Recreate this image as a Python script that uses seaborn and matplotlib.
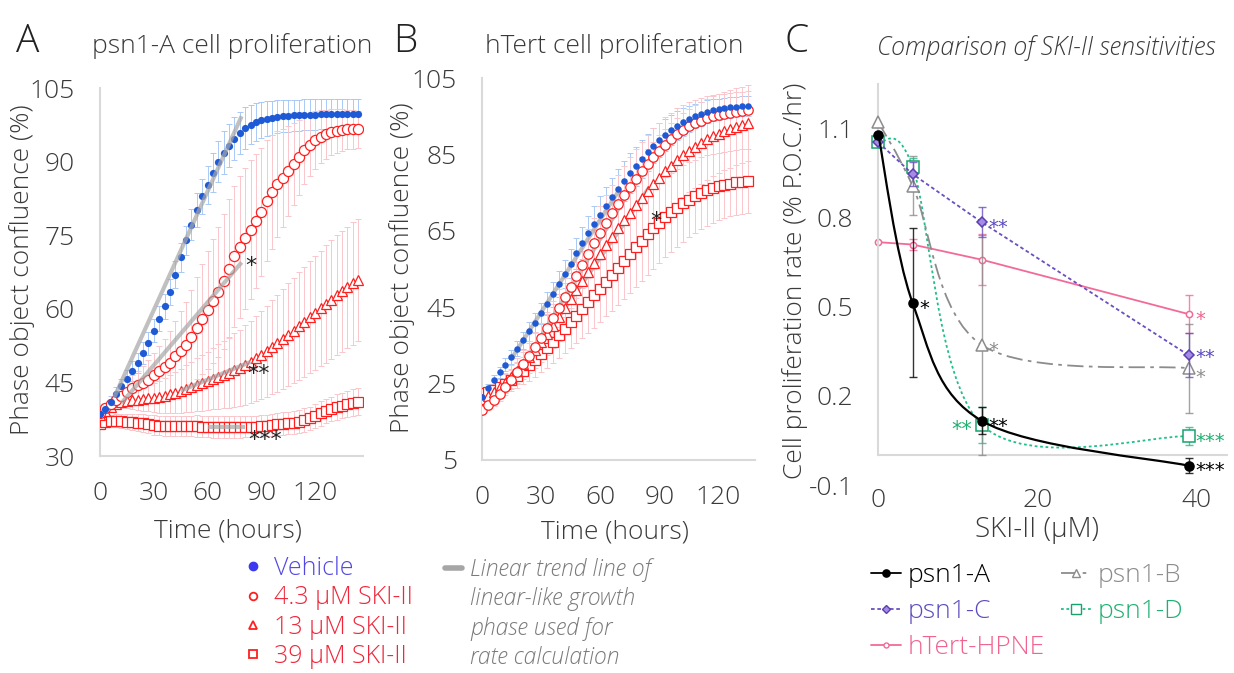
import numpy as np
import pandas as pd
import seaborn as sns
import matplotlib.pyplot as plt
from matplotlib.lines import Line2D
from matplotlib.path import Path
from matplotlib.patches import PathPatch

# ---- panel A: psn1-A confluence (%), every 3 h ----
hours_a = np.arange(0, 145, 3)
veh_a = [38.5, 39.6, 41.0, 42.6, 44.2, 45.7, 47.3, 49.0, 51.0, 53.0,
         55.6, 58.0, 60.5, 63.5, 67.0, 70.5, 74.0, 77.2, 80.2, 83.0,
         85.3, 87.8, 90.0, 91.9, 93.3, 94.7, 95.9, 96.9, 97.6, 98.1,
         98.5, 98.8, 99.0, 99.2, 99.3, 99.4, 99.5, 99.5, 99.6, 99.6,
         99.6, 99.7, 99.7, 99.7, 99.7, 99.7, 99.7, 99.7, 99.7]
c43_a = [38.7, 39.7, 40.6, 41.4, 42.2, 43.1, 43.9, 44.4, 44.9, 45.6,
         46.5, 47.3, 48.1, 49.0, 50.3, 51.5, 52.6, 54.2, 56.1, 58.0,
         59.8, 61.6, 63.4, 65.6, 68.2, 70.7, 72.6, 74.4, 76.2, 77.9,
         79.8, 82.1, 83.8, 85.4, 86.8, 88.1, 89.5, 90.9, 92.4, 93.5,
         94.4, 95.1, 95.6, 96.0, 96.3, 96.5, 96.6, 96.6, 96.6]
c13_a = [38.3, 39.2, 40.0, 40.6, 41.0, 41.2, 41.4, 41.5, 41.6, 41.8,
         41.9, 42.1, 42.3, 42.6, 42.9, 43.3, 43.7, 44.1, 44.5, 44.9,
         45.3, 45.8, 46.2, 46.6, 47.0, 47.5, 48.0, 48.6, 49.2, 49.9,
         50.6, 51.4, 52.2, 53.0, 53.8, 54.7, 55.6, 56.5, 57.4, 58.3,
         59.2, 60.1, 61.0, 61.9, 62.8, 63.6, 64.4, 65.2, 65.9]
c39_a = [36.6, 37.0, 37.2, 37.2, 37.1, 37.0, 36.9, 36.8, 36.7, 36.5,
         36.3, 36.2, 36.1, 36.1, 36.1, 36.1, 36.1, 36.1, 36.1, 36.0,
         36.0, 35.9, 35.9, 35.9, 35.9, 35.9, 35.9, 36.0, 36.0, 36.0,
         36.1, 36.2, 36.3, 36.5, 36.6, 36.7, 36.8, 37.0, 37.3, 37.7,
         38.2, 38.7, 39.2, 39.6, 40.0, 40.3, 40.6, 40.9, 41.1]
veh_err_a = [0.8, 1.0, 1.2, 1.4, 1.6, 1.8, 2.0, 2.1, 2.2, 2.3,
             2.4, 2.5, 2.6, 2.7, 2.8, 2.9, 3.0, 3.2, 3.4, 3.6,
             3.8, 4.0, 4.2, 4.3, 4.4, 4.4, 4.3, 4.2, 4.0, 3.8,
             3.7, 3.6, 3.5, 3.4, 3.3, 3.3, 3.2, 3.2, 3.2, 3.2,
             3.2, 3.1, 3.1, 3.1, 3.1, 3.1, 3.1, 3.1, 3.1]
c43_err_a = [0.5, 0.8, 1.1, 1.4, 1.8, 2.2, 2.6, 3.0, 3.5, 4.0,
             4.6, 5.2, 5.8, 6.5, 7.2, 8.0, 8.8, 9.6, 10.4, 11.2,
             12.0, 12.7, 13.3, 13.8, 14.2, 14.4, 14.5, 14.4, 14.1, 13.7,
             13.1, 12.4, 11.6, 10.8, 10.0, 9.2, 8.4, 7.7, 7.0, 6.4,
             5.9, 5.4, 5.0, 4.7, 4.4, 4.2, 4.0, 3.9, 3.8]
c13_err_a = [0.5, 0.7, 0.9, 1.1, 1.3, 1.5, 1.8, 2.1, 2.4, 2.7,
             3.0, 3.3, 3.6, 3.9, 4.2, 4.5, 4.8, 5.1, 5.4, 5.7,
             6.0, 6.3, 6.6, 6.9, 7.2, 7.5, 7.8, 8.1, 8.4, 8.7,
             9.0, 9.3, 9.6, 9.9, 10.2, 10.5, 10.8, 11.0, 11.2, 11.4,
             11.6, 11.8, 12.0, 12.1, 12.2, 12.3, 12.4, 12.5, 12.5]
c39_err_a = [1.0, 1.1, 1.2, 1.3, 1.4, 1.5, 1.6, 1.7, 1.8, 1.9,
             2.0, 2.0, 2.0, 2.0, 2.1, 2.1, 2.1, 2.1, 2.2, 2.2,
             2.2, 2.2, 2.2, 2.2, 2.2, 2.2, 2.2, 2.2, 2.2, 2.2,
             2.2, 2.2, 2.2, 2.2, 2.3, 2.3, 2.3, 2.3, 2.4, 2.4,
             2.4, 2.5, 2.5, 2.5, 2.6, 2.6, 2.6, 2.7, 2.7]
# linear trend lines (start/end hour, start/end value)
trend_a = [([8, 79], [42.0, 99.3]), ([12, 79], [40.8, 69.5]),
           ([45, 84], [43.3, 49.2]), ([60, 81], [36.0, 36.0])]
stars_a = [(84, 70.0, '*'), (88.3, 48.0, '**'), (92.2, 34.5, '***')]

# ---- panel B: hTert confluence (%) ----
hours_b = np.arange(0, 136, 3)
veh_b = [21.5, 23.8, 26.0, 28.0, 30.0, 32.0, 34.2, 36.4, 38.7, 41.0,
         43.4, 45.9, 48.4, 51.0, 53.7, 56.4, 59.1, 61.8, 64.4, 66.9,
         69.3, 71.6, 73.8, 76.0, 78.1, 80.1, 82.0, 83.9, 85.6, 87.3,
         88.8, 90.2, 91.5, 92.6, 93.6, 94.4, 95.1, 95.7, 96.2, 96.6,
         96.9, 97.2, 97.4, 97.6, 97.7, 97.8]
c43_b = [18.0, 19.3, 20.8, 22.4, 24.1, 26.0, 28.0, 30.1, 32.3, 34.6,
         37.0, 39.5, 42.1, 44.8, 47.6, 50.4, 53.3, 56.2, 59.0, 61.8,
         64.5, 67.1, 69.6, 72.0, 74.3, 76.5, 78.6, 80.6, 82.5, 84.3,
         86.0, 87.6, 89.0, 90.3, 91.4, 92.4, 93.2, 93.9, 94.5, 95.0,
         95.4, 95.7, 96.0, 96.2, 96.4, 96.6]
c13_b = [21.0, 21.8, 22.8, 24.0, 25.3, 26.8, 28.4, 30.1, 31.9, 33.8,
         35.8, 37.9, 40.1, 42.4, 44.7, 47.1, 49.5, 51.9, 54.3, 56.7,
         59.0, 61.3, 63.5, 65.7, 67.8, 69.8, 71.8, 73.7, 75.5, 77.3,
         79.0, 80.6, 82.1, 83.5, 84.8, 86.0, 87.1, 88.1, 89.0, 89.8,
         90.5, 91.2, 91.8, 92.3, 92.8, 93.2]
c39_b = [22.5, 22.9, 23.4, 24.1, 25.0, 26.0, 27.1, 28.4, 29.8, 31.2,
         32.8, 34.4, 36.0, 37.7, 39.4, 41.1, 42.8, 44.5, 46.3, 48.1,
         49.9, 51.7, 53.5, 55.3, 57.1, 58.9, 60.7, 62.4, 64.1, 65.7,
         67.2, 68.6, 69.9, 71.1, 72.2, 73.2, 74.1, 74.9, 75.6, 76.2,
         76.7, 77.1, 77.4, 77.7, 77.9, 78.1]
veh_err_b = [0.8, 1.0, 1.2, 1.4, 1.6, 1.8, 2.0, 2.2, 2.4, 2.6,
             2.8, 3.0, 3.2, 3.4, 3.6, 3.8, 4.0, 4.2, 4.4, 4.6,
             4.8, 5.0, 5.1, 5.2, 5.2, 5.2, 5.1, 5.0, 4.8, 4.6,
             4.4, 4.2, 4.0, 3.8, 3.6, 3.4, 3.2, 3.1, 3.0, 2.9,
             2.8, 2.7, 2.7, 2.6, 2.6, 2.6]
c43_err_b = [1.0, 1.3, 1.6, 1.9, 2.2, 2.5, 2.8, 3.1, 3.4, 3.7,
             4.0, 4.3, 4.6, 4.9, 5.2, 5.5, 5.8, 6.1, 6.4, 6.7,
             7.0, 7.2, 7.4, 7.6, 7.7, 7.8, 7.8, 7.8, 7.7, 7.6,
             7.4, 7.2, 7.0, 6.8, 6.6, 6.4, 6.2, 6.0, 5.8, 5.6,
             5.4, 5.3, 5.2, 5.1, 5.0, 5.0]
c13_err_b = [1.0, 1.4, 1.8, 2.2, 2.6, 3.0, 3.4, 3.8, 4.2, 4.6,
             5.0, 5.4, 5.8, 6.2, 6.6, 7.0, 7.4, 7.8, 8.2, 8.6,
             9.0, 9.3, 9.6, 9.9, 10.2, 10.4, 10.6, 10.8, 11.0, 11.1,
             11.2, 11.2, 11.2, 11.1, 11.0, 10.9, 10.8, 10.7, 10.6, 10.5,
             10.4, 10.3, 10.2, 10.1, 10.0, 10.0]
c39_err_b = [0.8, 1.2, 1.6, 2.0, 2.4, 2.8, 3.2, 3.6, 4.0, 4.4,
             4.8, 5.2, 5.6, 6.0, 6.4, 6.8, 7.2, 7.6, 8.0, 8.4,
             8.8, 9.1, 9.4, 9.7, 10.0, 10.2, 10.4, 10.5, 10.6, 10.6,
             10.6, 10.5, 10.4, 10.2, 10.0, 9.8, 9.6, 9.4, 9.2, 9.0,
             8.8, 8.7, 8.6, 8.5, 8.5, 8.5]
trend_b = [([15, 70], [31.5, 76.0]), ([25, 80], [33.0, 80.0]),
           ([30, 85], [35.8, 76.5]), ([30, 90], [32.8, 67.2])]
stars_b = [(88.3, 69.2, '*')]

# ---- panel C: proliferation rate vs SKI-II ----
conc = [0, 4.3, 13, 39]
lines_c = ['psn1-A', 'psn1-B', 'psn1-C', 'psn1-D', 'hTert-HPNE']
rate_c = {
    'psn1-A': [1.078, 0.513, 0.116, -0.035],
    'psn1-B': [1.12, 0.907, 0.371, 0.293],
    'psn1-C': [1.053, 0.946, 0.784, 0.337],
    'psn1-D': [1.053, 0.971, 0.103, 0.064],
    'hTert-HPNE': [0.717, 0.709, 0.658, 0.475],
}
err_c = {
    'psn1-A': [0.0, 0.25, 0.045, 0.025],
    'psn1-B': [0.0, 0.10, 0.37, 0.15],
    'psn1-C': [0.0, 0.04, 0.05, 0.075],
    'psn1-D': [0.0, 0.03, 0.06, 0.03],
    'hTert-HPNE': [0.0, 0.02, 0.085, 0.065],
}
stars_c = {
    'psn1-A': ['', '*', '**', '***'],
    'psn1-B': ['', '', '*', '*'],
    'psn1-C': ['', '', '**', '**'],
    'psn1-D': ['', '', '**', '***'],
    'hTert-HPNE': ['', '', '', '*'],
}

BLUE = '#1f5ad6'
RED = '#ff1f1f'
PINK_ERR = '#f9c6cb'
BLUE_ERR = '#a9c9f5'
GRID = '#d9d9d9'
TREND = '#a6a6a6'
style_c = {
    'psn1-A': dict(color='black', ls='-', marker='o', mfc='black', mec='black', ms=6.5, smooth=True),
    'psn1-B': dict(color='#8c8c8c', ls=(0, (9, 3, 2, 3)), marker='^', mfc='white', mec='#8c8c8c', ms=8, smooth=True),
    'psn1-C': dict(color='#6a4fc0', ls=(0, (2, 1.5)), marker='D', mfc='#a58ae6', mec='#5a3fb0', ms=5.5, smooth=False),
    'psn1-D': dict(color='#1fbf85', ls=(0, (1.5, 1.5)), marker='s', mfc='white', mec='#17a36b', ms=9, smooth=True),
    'hTert-HPNE': dict(color='#f26b98', ls='-', marker='o', mfc='white', mec='#f26b98', ms=4.5, smooth=False),
}
text_c = {'psn1-A': 'black', 'psn1-B': '#8c8c8c', 'psn1-C': '#5a4cc0',
          'psn1-D': '#1fb070', 'hTert-HPNE': '#f0648f'}

sns.set_theme(style='white')
plt.rcParams['font.family'] = ['Open Sans', 'DejaVu Sans']
plt.rcParams['font.weight'] = 'light'
plt.rcParams['axes.labelweight'] = 'light'
TEXT = '#3a3a3a'

fig = plt.figure(figsize=(12.34, 6.73), dpi=100)
ax_a = fig.add_axes([0.0810, 0.3224, 0.2129, 0.5464])
ax_b = fig.add_axes([0.3904, 0.3165, 0.2215, 0.5672])
ax_c = fig.add_axes([0.7118, 0.2793, 0.2836, 0.5963])


def style_axis(ax):
    for side in ['top', 'right']:
        ax.spines[side].set_visible(False)
    for side in ['left', 'bottom']:
        ax.spines[side].set_color(GRID)
        ax.spines[side].set_linewidth(1.5)
    ax.tick_params(length=0, labelsize=19, colors=TEXT, pad=18)


def star(ax, x, y, s, color='#222222', fs=16, dx=0, dy=0, ha='center'):
    # glyph centre of the DejaVu asterisk sits about 0.55 em above the baseline
    ax.annotate(s, (x, y), xytext=(dx, dy - 0.55 * fs), textcoords='offset points',
                ha=ha, va='baseline', fontsize=fs, color=color, family='DejaVu Sans',
                fontweight='normal', annotation_clip=False, zorder=8)


def growth_panel(ax, hours, series, errs, trends, ms, trend_z):
    veh, c43, c13, c39 = series
    for vals, err, ec in zip(series, errs, [BLUE_ERR, PINK_ERR, PINK_ERR, PINK_ERR]):
        ax.errorbar(hours, vals, yerr=err, fmt='none', ecolor=ec, elinewidth=0.7,
                    capsize=2, capthick=0.7, zorder=1)
    sns.lineplot(x=hours, y=c39, ax=ax, color=RED, linestyle='none', marker='s', markersize=ms,
                 markerfacecolor='white', markeredgecolor=RED, markeredgewidth=0.9, errorbar=None, zorder=3)
    sns.lineplot(x=hours, y=c13, ax=ax, color=RED, linestyle='none', marker='^', markersize=ms + 0.5,
                 markerfacecolor='white', markeredgecolor=RED, markeredgewidth=0.9, errorbar=None, zorder=3)
    sns.lineplot(x=hours, y=c43, ax=ax, color=RED, linestyle='none', marker='o', markersize=ms + 0.3,
                 markerfacecolor='white', markeredgecolor=RED, markeredgewidth=0.9, errorbar=None, zorder=3)
    sns.lineplot(x=hours, y=veh, ax=ax, color=BLUE, linestyle='none', marker='o', markersize=ms - 1.8,
                 markerfacecolor=BLUE, markeredgecolor=BLUE, markeredgewidth=0, errorbar=None, zorder=4)
    for (tx, ty), z in zip(trends, trend_z):
        ax.plot(tx, ty, color=TREND, lw=3, alpha=0.7, solid_capstyle='butt', zorder=z)
    style_axis(ax)
    ax.set_xticks([0, 30, 60, 90, 120])
    ax.set_ylabel('Phase object confluence (%)', fontsize=19, color=TEXT)
    ax.set_xlabel('Time (hours)', fontsize=19, color=TEXT)


growth_panel(ax_a, hours_a, [veh_a, c43_a, c13_a, c39_a],
             [veh_err_a, c43_err_a, c13_err_a, c39_err_a], trend_a, 7, [5, 3.5, 3.5, 3.5])
ax_a.set_xlim(0, 146.5)
ax_a.set_ylim(30, 105)
ax_a.set_yticks([30, 45, 60, 75, 90, 105])
ax_a.xaxis.set_label_coords(0.487, -0.17)
ax_a.yaxis.set_label_coords(-0.247, 0.506)
for tx, ty, s in stars_a:
    star(ax_a, tx, ty, s)

growth_panel(ax_b, hours_b, [veh_b, c43_b, c13_b, c39_b],
             [veh_err_b, c43_err_b, c13_err_b, c39_err_b], trend_b, 6.5, [2, 2, 2, 2])
ax_b.set_xlim(0, 138.5)
ax_b.set_ylim(5, 105)
ax_b.set_yticks([5, 25, 45, 65, 85, 105])
ax_b.xaxis.set_label_coords(0.488, -0.155)
ax_b.yaxis.set_label_coords(-0.244, 0.503)
for tx, ty, s in stars_b:
    star(ax_b, tx, ty, s)

# ---- panel C ----
ax_c.set_xlim(0, 44)
ax_c.set_ylim(-0.1, 1.25)
style_axis(ax_c)
ax_c.spines['bottom'].set_visible(False)
ax_c.spines['left'].set_bounds(0, 1.25)
ax_c.axhline(0, color=GRID, lw=1.5, zorder=0)
ax_c.set_yticks([-0.1, 0.2, 0.5, 0.8, 1.1])
ax_c.set_yticklabels(['-0.1', '0.2', '0.5', '0.8', '1.1'])
ax_c.set_xticks([0, 20, 40])
ax_c.tick_params(axis='x', pad=2)
ax_c.set_ylabel('Cell proliferation rate (% P.O.C./hr)', fontsize=19, color=TEXT)
ax_c.set_xlabel('SKI-II (µM)', fontsize=20, color=TEXT)
ax_c.xaxis.set_label_coords(0.453, -0.078)
ax_c.yaxis.set_label_coords(-0.2, 0.508)
fig.canvas.draw()


def smooth_curve(ax, x, y, **kw):
    pts = ax.transData.transform(np.column_stack([x, y]))
    verts, codes = [pts[0]], [Path.MOVETO]
    n = len(pts)
    for i in range(n - 1):
        p0, p1 = pts[max(i - 1, 0)], pts[i]
        p2, p3 = pts[i + 1], pts[min(i + 2, n - 1)]
        verts += [p1 + (p2 - p0) / 6, p2 - (p3 - p1) / 6, p2]
        codes += [Path.CURVE4] * 3
    verts = ax.transData.inverted().transform(np.array(verts))
    ax.add_patch(PathPatch(Path(verts, codes), fill=False, **kw))


zord = {'psn1-A': 6, 'psn1-B': 4, 'psn1-C': 5, 'psn1-D': 3, 'hTert-HPNE': 2}
# small vertical nudges (points) where two star labels sit close together
star_dy = {('psn1-C', 39): 2, ('psn1-B', 39): -3}
for name in lines_c:
    st = style_c[name]
    y = rate_c[name]
    e = err_c[name]
    idx = [i for i in range(4) if e[i] > 0]
    ax_c.errorbar([conc[i] for i in idx], [y[i] for i in idx], yerr=[e[i] for i in idx],
                  fmt='none', ecolor=st['color'], elinewidth=1, capsize=3, capthick=1,
                  alpha=0.8, zorder=zord[name] - 0.5)
    lw = 1.6 if name == 'psn1-A' else 1.3
    if st['smooth']:
        smooth_curve(ax_c, conc, y, edgecolor=st['color'], lw=lw, linestyle=st['ls'],
                     zorder=zord[name])
        ls_markers = 'none'
    else:
        ls_markers = st['ls']
    sns.lineplot(x=conc, y=y, ax=ax_c, color=st['color'], linestyle=ls_markers, lw=lw,
                 marker=st['marker'], markersize=st['ms'], markerfacecolor=st['mfc'],
                 markeredgecolor=st['mec'], markeredgewidth=1.1, errorbar=None,
                 zorder=zord[name] + 0.2, clip_on=False)
    for xi, yi, s in zip(conc, y, stars_c[name]):
        if not s:
            continue
        if name == 'psn1-D' and xi == 13:
            star(ax_c, xi, yi, s, color=text_c[name], fs=15, dx=-7, ha='right')
        else:
            star(ax_c, xi, yi, s, color=text_c[name], fs=14, dx=5,
                 dy=star_dy.get((name, xi), 0), ha='left')

# ---- titles, panel letters ----
W, H = 1234, 673
for x, y, s in [(28, 42, 'A'), (405, 42, 'B'), (797, 42, 'C')]:
    fig.text(x / W, 1 - y / H, s, fontsize=28, color='#222222', ha='center', va='center')
fig.text(232 / W, 1 - 46 / H, 'psn1-A cell proliferation', fontsize=19, color=TEXT,
         ha='center', va='center')
fig.text(614 / W, 1 - 46 / H, 'hTert cell proliferation', fontsize=19, color=TEXT,
         ha='center', va='center')
fig.text(1046 / W, 1 - 48 / H, 'Comparison of SKI-II sensitivities', fontsize=18,
         color=TEXT, ha='center', va='center', style='italic')

# ---- legends ----
leg_a_handles = [
    Line2D([], [], ls='none', marker='o', ms=6, color='#3a3af0'),
    Line2D([], [], ls='none', marker='o', ms=5.5, mfc='white', mec=RED, mew=1.3),
    Line2D([], [], ls='none', marker='^', ms=5.5, mfc='white', mec=RED, mew=1.3),
    Line2D([], [], ls='none', marker='s', ms=5.5, mfc='white', mec=RED, mew=1.3),
]
fig.legend(handles=leg_a_handles,
           labels=['Vehicle', '4.3 µM SKI-II', '13 µM SKI-II', '39 µM SKI-II'],
           labelcolor=['#5248e0', '#f0263a', '#f0263a', '#f0263a'],
           loc='upper left', bbox_to_anchor=(243 / W, 1 - 556 / H), frameon=False,
           fontsize=18, handlelength=0.8, handletextpad=0.45, labelspacing=0.17,
           borderpad=0, borderaxespad=0)
fig.legend(handles=[Line2D([], [], color=TREND, lw=4)] + [Line2D([], [], alpha=0)] * 3,
           labels=['Linear trend line of', 'linear-like growth', 'phase used for',
                   'rate calculation'],
           labelcolor='#7a7a7a', prop=dict(style='italic', size=16.5),
           loc='upper left', bbox_to_anchor=(445 / W, 1 - 558 / H), frameon=False,
           handlelength=0.75, handletextpad=0.35, labelspacing=0.23,
           borderpad=0, borderaxespad=0)

order = ['psn1-A', 'psn1-C', 'hTert-HPNE', 'psn1-B', 'psn1-D']
leg_c_handles = []
for name in order:
    st = style_c[name]
    leg_c_handles.append(Line2D([], [], color=st['color'], ls=st['ls'], lw=1.3,
                                marker=st['marker'], ms=st['ms'] * 0.8, mfc=st['mfc'],
                                mec=st['mec'], mew=1))
fig.legend(handles=leg_c_handles, labels=order, labelcolor=[text_c[n] for n in order],
           ncol=2, loc='upper left', bbox_to_anchor=(871 / W, 1 - 563 / H), frameon=False,
           fontsize=19, handlelength=1.15, handletextpad=0.25, labelspacing=0.42,
           columnspacing=0.6, borderpad=0, borderaxespad=0)

fig.savefig('out.png', dpi=100)
